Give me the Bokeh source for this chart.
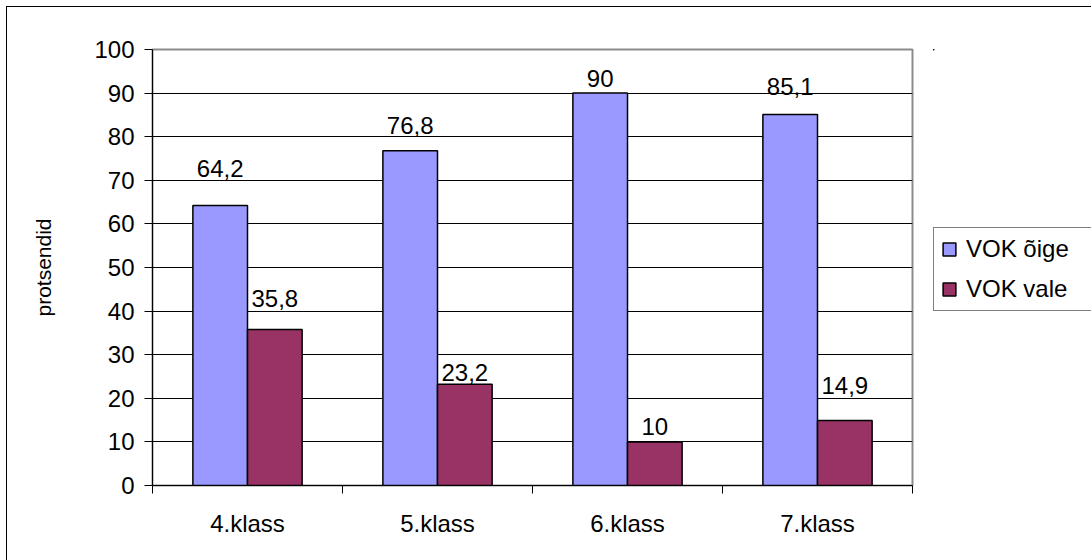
from bokeh.plotting import figure
from bokeh.layouts import row
from bokeh.models import (Range1d, FixedTicker, ColumnDataSource, LabelSet,
                          Legend, LegendItem, InlineStyleSheet)
from bokeh.core.properties import value
from bokeh.embed import file_html
from bokeh.resources import INLINE

# --- data -------------------------------------------------------------
categories = ["4.klass", "5.klass", "6.klass", "7.klass"]
series_names = ["VOK õige", "VOK vale"]
correct = [64.2, 76.8, 90, 85.1]
wrong = [35.8, 23.2, 10, 14.9]
y_ticks = [0, 10, 20, 30, 40, 50, 60, 70, 80, 90, 100]

# --- layout / style ---------------------------------------------------
FONT = "Liberation Sans"
BLUE = "#9999FF"
PLUM = "#993366"
BAR_W = 0.2875
# distance (px) between bar top and value label baseline
correct_gap = [29, 17, 6, 19]
wrong_gap = [22, 3, 7, 27]


def fmt(v):
    return f"{v:g}".replace(".", ",")


centers = [i + 0.5 for i in range(len(categories))]

src_c = ColumnDataSource(dict(
    x=[c - BAR_W / 2 for c in centers], top=correct,
    label=[fmt(v) for v in correct], gap=correct_gap))
src_w = ColumnDataSource(dict(
    x=[c + BAR_W / 2 for c in centers], top=wrong,
    label=[fmt(v) for v in wrong], gap=wrong_gap))

p = figure(width=933, height=560, output_backend="svg", toolbar_location=None,
           x_range=Range1d(0, len(categories)), y_range=Range1d(0, 100),
           min_border_left=152, min_border_right=21,
           min_border_top=49, min_border_bottom=75)
p.background_fill_color = "white"
p.border_fill_color = "white"
p.outline_line_color = "#8c8c8c"
p.outline_line_width = 2

# bars
bar_c = dict(fill_color=BLUE, line_color="black", line_width=1.5)
bar_w = dict(fill_color=PLUM, line_color="black", line_width=1.5)
p.vbar(x="x", top="top", width=BAR_W, bottom=0, source=src_c, **bar_c)
p.vbar(x="x", top="top", width=BAR_W, bottom=0, source=src_w, **bar_w)

# value labels
for src in (src_c, src_w):
    p.add_layout(LabelSet(x="x", y="top", text="label", y_offset="gap",
                          source=src, text_align="center",
                          text_baseline="alphabetic", text_font=value(FONT),
                          text_font_size="24px", text_color="black"))

# y axis
yax = p.yaxis[0]
yax.ticker = FixedTicker(ticks=y_ticks)
yax.axis_line_color = "black"
yax.major_tick_line_color = "black"
yax.major_tick_in = 0
yax.major_tick_out = 8
yax.minor_tick_line_color = None
yax.major_label_text_font = FONT
yax.major_label_text_font_size = "24px"
yax.major_label_text_color = "black"
yax.major_label_standoff = 10
yax.axis_label = "protsendid"
yax.axis_label_text_font = FONT
yax.axis_label_text_font_size = "21px"
yax.axis_label_text_font_style = "normal"
yax.axis_label_text_color = "black"
yax.axis_label_standoff = 36

# x axis: labels at group centres, tick marks at group boundaries
xax = p.xaxis[0]
xax.ticker = FixedTicker(ticks=centers,
                         minor_ticks=list(range(len(categories) + 1)))
xax.major_label_overrides = {c: name for c, name in zip(centers, categories)}
xax.axis_line_color = "black"
xax.major_tick_line_color = None
xax.minor_tick_line_color = "black"
xax.minor_tick_in = 0
xax.minor_tick_out = 8
xax.major_label_text_font = FONT
xax.major_label_text_font_size = "24px"
xax.major_label_text_color = "black"
xax.major_label_standoff = 16

p.xgrid.grid_line_color = None
p.ygrid.grid_line_color = "black"
p.ygrid.grid_line_width = 1

# key strip to the right of the chart: series swatches and names.
# The series are plotted here again only to give the key its glyphs;
# the strip's ranges lie far away from the data, so these bars stay hidden.
key = figure(width=158, height=560, output_backend="svg", toolbar_location=None,
             x_range=Range1d(1000, 1001), y_range=Range1d(-1001, -1000),
             min_border=0, x_axis_location=None, y_axis_location=None)
key.grid.visible = False
key.outline_line_color = None
key.background_fill_color = "white"
key.border_fill_color = "white"
k_c = key.vbar(x="x", top="top", width=BAR_W, bottom=0, source=src_c, **bar_c)
k_w = key.vbar(x="x", top="top", width=BAR_W, bottom=0, source=src_w, **bar_w)

legend = Legend(items=[LegendItem(label=series_names[0], renderers=[k_c]),
                       LegendItem(label=series_names[1], renderers=[k_w])],
                location=(0, 174), orientation="vertical",
                border_line_color="black", border_line_width=1,
                background_fill_color="white", background_fill_alpha=1,
                glyph_width=16, glyph_height=16, label_standoff=9,
                label_text_font=FONT, label_text_font_size="24px",
                label_text_color="black", label_width=125,
                padding=7, spacing=12, margin=0)
key.add_layout(legend)

layout = row(p, key, spacing=0)

# chart border (top and left edges)
layout.stylesheets = [InlineStyleSheet(css="""
:host::after {
  content: "";
  position: absolute;
  left: 6px; top: 6px; right: 0; bottom: 0;
  border-left: 1.5px solid black;
  border-top: 1.5px solid black;
  pointer-events: none;
}
""")]

open("out.html", "w").write(file_html(layout, INLINE))
